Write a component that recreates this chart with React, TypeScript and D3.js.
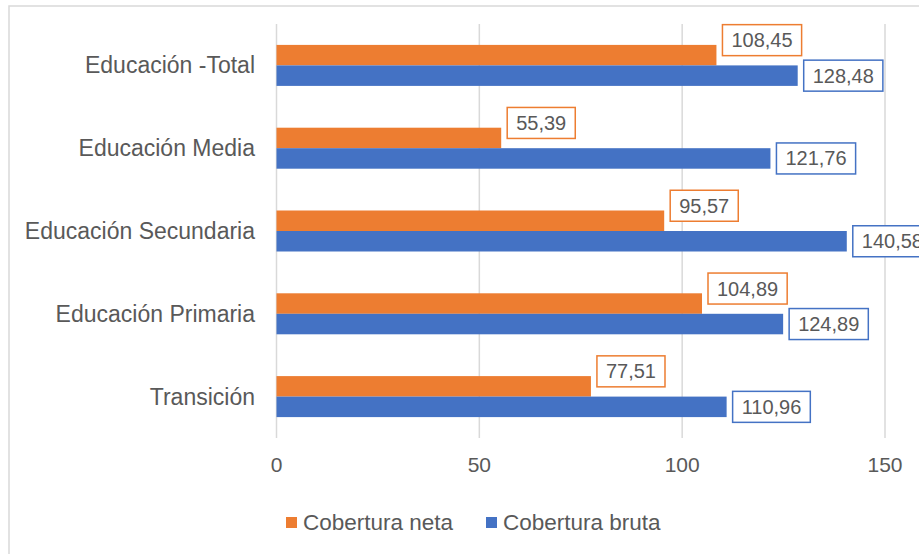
import { useRef, useEffect } from "react";
import * as d3 from "d3";

// categories, top to bottom
const categories = [
  "Educación -Total",
  "Educación Media",
  "Educación Secundaria",
  "Educación Primaria",
  "Transición",
];
const coberturaNeta = [108.45, 55.39, 95.57, 104.89, 77.51];
const coberturaBruta = [128.48, 121.76, 140.58, 124.89, 110.96];
const seriesNames = ["Cobertura neta", "Cobertura bruta"];
const xTicks = [0, 50, 100, 150];

const width = 919;
const height = 554;
const colors = ["#ED7D31", "#4472C4"];
const textColor = "#595959";
const gridColor = "#d9d9d9";
const font = "'Liberation Sans', Arial, sans-serif";

const App = () => {
  const svgRef = useRef<SVGSVGElement>(null);

  useEffect(() => {
    const svg = d3.select(svgRef.current);
    svg.selectAll("*").remove();

    // chart frame (runs past the right and bottom edges)
    svg
      .append("rect")
      .attr("x", 9)
      .attr("y", 6)
      .attr("width", 1000)
      .attr("height", 700)
      .attr("fill", "#fff")
      .attr("stroke", gridColor)
      .attr("stroke-width", 1.5);

    const x = d3.scaleLinear().domain([0, 150]).range([276.5, 885]);
    const y = d3.scaleBand().domain(categories).range([24, 438]);
    const barH = 20.5;

    // gridlines
    svg
      .selectAll(".grid")
      .data(xTicks)
      .enter()
      .append("line")
      .attr("x1", (d) => x(d))
      .attr("x2", (d) => x(d))
      .attr("y1", 24)
      .attr("y2", 438)
      .attr("stroke", gridColor)
      .attr("stroke-width", 1.5);

    // tick labels
    svg
      .selectAll(".tick")
      .data(xTicks)
      .enter()
      .append("text")
      .attr("x", (d) => x(d))
      .attr("y", 471.5)
      .attr("text-anchor", "middle")
      .attr("fill", textColor)
      .style("font", `21px ${font}`)
      .text((d) => d);

    // category labels
    svg
      .selectAll(".cat")
      .data(categories)
      .enter()
      .append("text")
      .attr("x", 255)
      .attr("y", (d) => y(d)! + y.bandwidth() / 2)
      .attr("dy", "0.35em")
      .attr("text-anchor", "end")
      .attr("fill", textColor)
      .style("font", `23px ${font}`)
      .text((d) => d);

    const series = [coberturaNeta, coberturaBruta];

    series.forEach((vals, si) => {
      const rows = categories.map((c, i) => ({ c, v: vals[i] }));
      const barY = (c: string) =>
        y(c)! + y.bandwidth() / 2 - barH + si * barH;

      svg
        .selectAll(`.bar${si}`)
        .data(rows)
        .enter()
        .append("rect")
        .attr("x", x(0))
        .attr("y", (d) => barY(d.c))
        .attr("width", (d) => x(d.v) - x(0))
        .attr("height", barH)
        .attr("fill", colors[si]);

      // data labels in boxes
      rows.forEach((d) => {
        const cy = barY(d.c) + barH / 2 - (si === 0 ? 15 : 0);
        const g = svg.append("g");
        const box = g
          .append("rect")
          .attr("fill", "#fff")
          .attr("stroke", colors[si])
          .attr("stroke-width", 1.5);
        const t = g
          .append("text")
          .attr("x", x(d.v) + 6 + 9)
          .attr("y", cy)
          .attr("dy", "0.35em")
          .attr("fill", textColor)
          .style("font", `20px ${font}`)
          .text(d3.format(".2f")(d.v).replace(".", ","));
        const tw = (t.node() as SVGTextElement).getComputedTextLength();
        box
          .attr("x", x(d.v) + 6)
          .attr("y", cy - 15.5)
          .attr("width", tw + 18)
          .attr("height", 31);
      });
    });

    // legend
    const legendX = [286, 486];
    seriesNames.forEach((name, i) => {
      svg
        .append("rect")
        .attr("x", legendX[i])
        .attr("y", 517)
        .attr("width", 11)
        .attr("height", 11)
        .attr("fill", colors[i]);
      svg
        .append("text")
        .attr("x", legendX[i] + 17)
        .attr("y", 530)
        .attr("fill", textColor)
        .style("font", `22.5px ${font}`)
        .text(name);
    });
  }, []);

  return (
    <svg
      ref={svgRef}
      width={width}
      height={height}
      style={{ position: "absolute", left: 0, top: 0, background: "#fff" }}
    ></svg>
  );
};

export default App;
